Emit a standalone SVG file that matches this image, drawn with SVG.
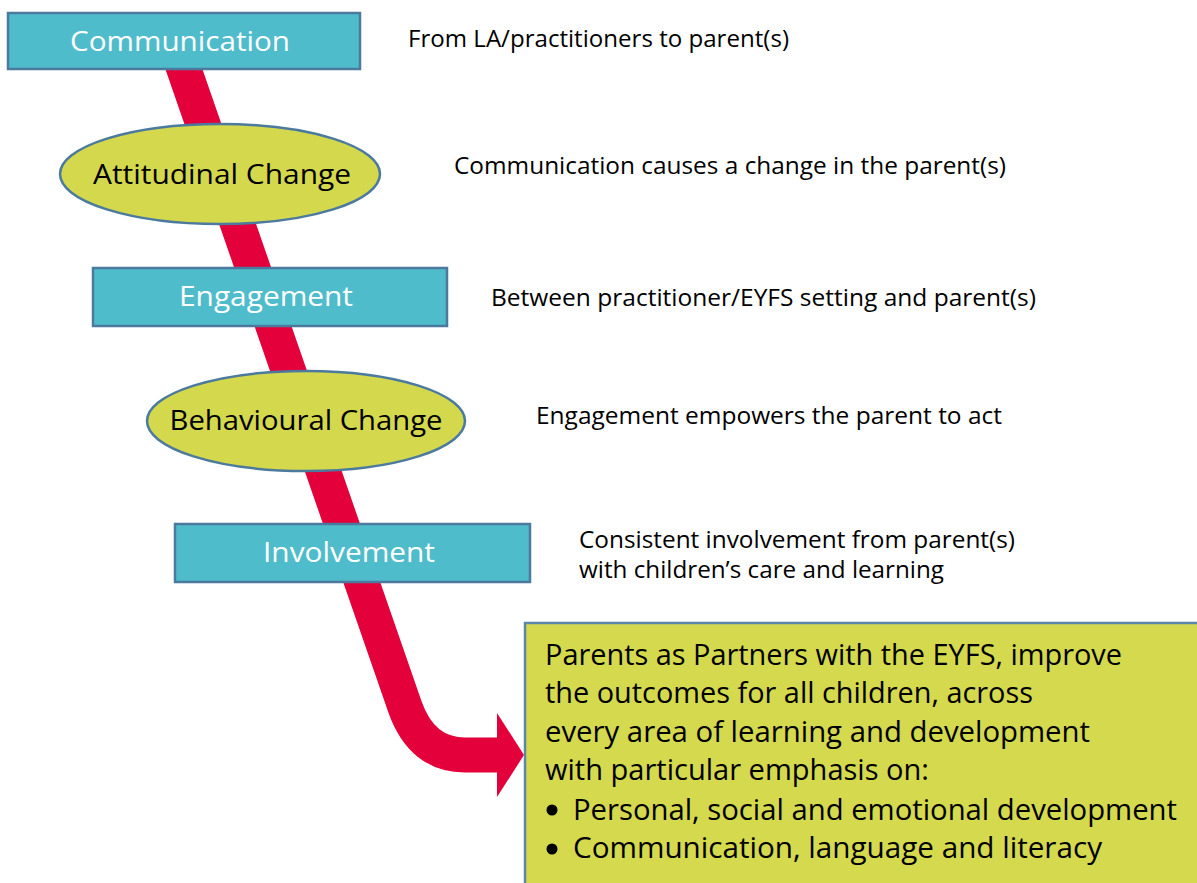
<svg xmlns="http://www.w3.org/2000/svg" width="1197" height="883" viewBox="0 0 1197 883">
<style>
.box{fill:#4FBCCB;stroke:#4B7A9E;stroke-width:2.5}
.ell{fill:#D4D84D;stroke:#4B7A9E;stroke-width:2.5}
.big{fill:#D4D94D;stroke:#5B86A8;stroke-width:2.5}
.wt{font-family:"Open Sans","Liberation Sans",sans-serif;font-size:28px;fill:#ffffff;text-anchor:middle}
.bt{font-family:"Open Sans","Liberation Sans",sans-serif;font-size:28px;fill:#000000;text-anchor:middle}
.desc{font-family:"Open Sans","Liberation Sans",sans-serif;font-size:23px;fill:#000000}
.main{font-family:"Open Sans","Liberation Sans",sans-serif;font-size:30px;fill:#000000}
</style>
<rect width="1197" height="883" fill="#ffffff"/>
<g id="connectors">
<path d="M179,55 L405,707 Q422,755 465,755 L500,755" fill="none" stroke="#E4003A" stroke-width="35"/>
<polygon points="497,713 524,755 497,797" fill="#E4003A"/>
</g>
<g id="communication">
<rect class="box" x="8" y="13" width="352" height="56"/>
<text class="wt" x="180" y="51" textLength="220" lengthAdjust="spacingAndGlyphs">Communication</text>
</g>
<g id="attitudinal">
<ellipse class="ell" cx="220" cy="174" rx="160" ry="50"/>
<text class="bt" x="222" y="184" textLength="258" lengthAdjust="spacingAndGlyphs">Attitudinal Change</text>
</g>
<g id="engagement">
<rect class="box" x="93" y="268" width="354" height="58"/>
<text class="wt" x="266" y="306" textLength="174" lengthAdjust="spacingAndGlyphs">Engagement</text>
</g>
<g id="behavioural">
<ellipse class="ell" cx="306" cy="421" rx="159" ry="50"/>
<text class="bt" x="306" y="430" textLength="273" lengthAdjust="spacingAndGlyphs">Behavioural Change</text>
</g>
<g id="involvement">
<rect class="box" x="175" y="524" width="355" height="58"/>
<text class="wt" x="349" y="562" textLength="172" lengthAdjust="spacingAndGlyphs">Involvement</text>
</g>
<g id="outcome">
<rect class="big" x="525" y="623" width="690" height="280"/>
<text class="main" x="545" y="665" textLength="577" lengthAdjust="spacingAndGlyphs">Parents as Partners with the EYFS, improve</text>
<text class="main" x="545" y="703" textLength="488" lengthAdjust="spacingAndGlyphs">the outcomes for all children, across</text>
<text class="main" x="545" y="742" textLength="545" lengthAdjust="spacingAndGlyphs">every area of learning and development</text>
<text class="main" x="545" y="780" textLength="384" lengthAdjust="spacingAndGlyphs">with particular emphasis on:</text>
<circle cx="552" cy="810" r="5.5" fill="#000000"/>
<text class="main" x="573" y="820" textLength="604" lengthAdjust="spacingAndGlyphs">Personal, social and emotional development</text>
<circle cx="552" cy="849" r="5.5" fill="#000000"/>
<text class="main" x="573" y="858" textLength="529" lengthAdjust="spacingAndGlyphs">Communication, language and literacy</text>
</g>
<g id="descriptions">
<text class="desc" x="408" y="47" textLength="381" lengthAdjust="spacingAndGlyphs">From LA/practitioners to parent(s)</text>
<text class="desc" x="454" y="174" textLength="552" lengthAdjust="spacingAndGlyphs">Communication causes a change in the parent(s)</text>
<text class="desc" x="491" y="306" textLength="545" lengthAdjust="spacingAndGlyphs">Between practitioner/EYFS setting and parent(s)</text>
<text class="desc" x="536" y="424" textLength="466" lengthAdjust="spacingAndGlyphs">Engagement empowers the parent to act</text>
<text class="desc" x="579" y="548" textLength="436" lengthAdjust="spacingAndGlyphs">Consistent involvement from parent(s)</text>
<text class="desc" x="579" y="578" textLength="365" lengthAdjust="spacingAndGlyphs">with children’s care and learning</text>
</g>
</svg>
